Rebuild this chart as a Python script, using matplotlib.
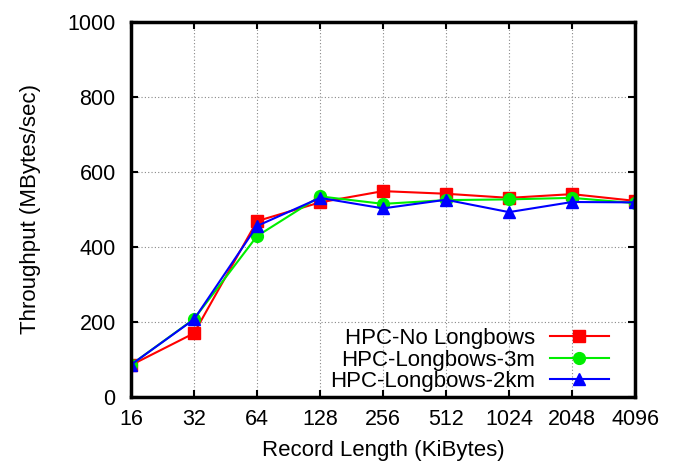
import matplotlib
matplotlib.use("Agg")
import matplotlib.pyplot as plt

record_lengths = ["16", "32", "64", "128", "256", "512", "1024", "2048", "4096"]
no_longbows = [85, 170, 469, 519, 549, 542, 531, 541, 523]
longbows_3m = [86, 208, 429, 535, 515, 525, 527, 531, 517]
longbows_2km = [86, 207, 456, 531, 503, 526, 493, 520, 519]

plt.rcParams["font.family"] = ["Liberation Sans", "DejaVu Sans"]

fig = plt.figure(figsize=(6.8, 4.67), dpi=100)
# axes frame in pixels: x 131..635, y 22..397
ax = fig.add_axes([131 / 680, 70 / 467, 504 / 680, 375 / 467])

x = list(range(len(record_lengths)))
ax.plot(x, no_longbows, color="#ff0000", marker="s", markersize=8.5, lw=1.5,
        label="HPC-No Longbows")
ax.plot(x, longbows_3m, color="#00ee00", marker="o", markersize=8.5, lw=1.5,
        label="HPC-Longbows-3m")
ax.plot(x, longbows_2km, color="#0000ff", marker="^", markersize=8.5, lw=1.5,
        label="HPC-Longbows-2km")

ax.set_xlim(0, len(record_lengths) - 1)
ax.set_ylim(0, 1000)
ax.set_xticks(x)
ax.set_xticklabels(record_lengths)
ax.set_yticks(range(0, 1001, 200))
ax.grid(True, color="#888888", linestyle=(0, (1, 2)), lw=0.8)
ax.tick_params(direction="in", top=True, right=True, length=5, width=1.5,
               labelsize=15.5)
ax.tick_params(axis="x", pad=8.5)
ax.tick_params(axis="y", pad=11)
for s in ax.spines.values():
    s.set_linewidth(2.5)

ax.set_xlabel("Record Length (KiBytes)", fontsize=16, labelpad=7)
ax.set_ylabel("Throughput (MBytes/sec)", fontsize=16, labelpad=19)

ax.legend(loc="lower right", bbox_to_anchor=(0.948, 0.013), frameon=False,
          markerfirst=False, fontsize=16, handlelength=2.65, labelspacing=0.02,
          borderaxespad=0, borderpad=0, handletextpad=0.68)

fig.savefig("out.png", dpi=100)
